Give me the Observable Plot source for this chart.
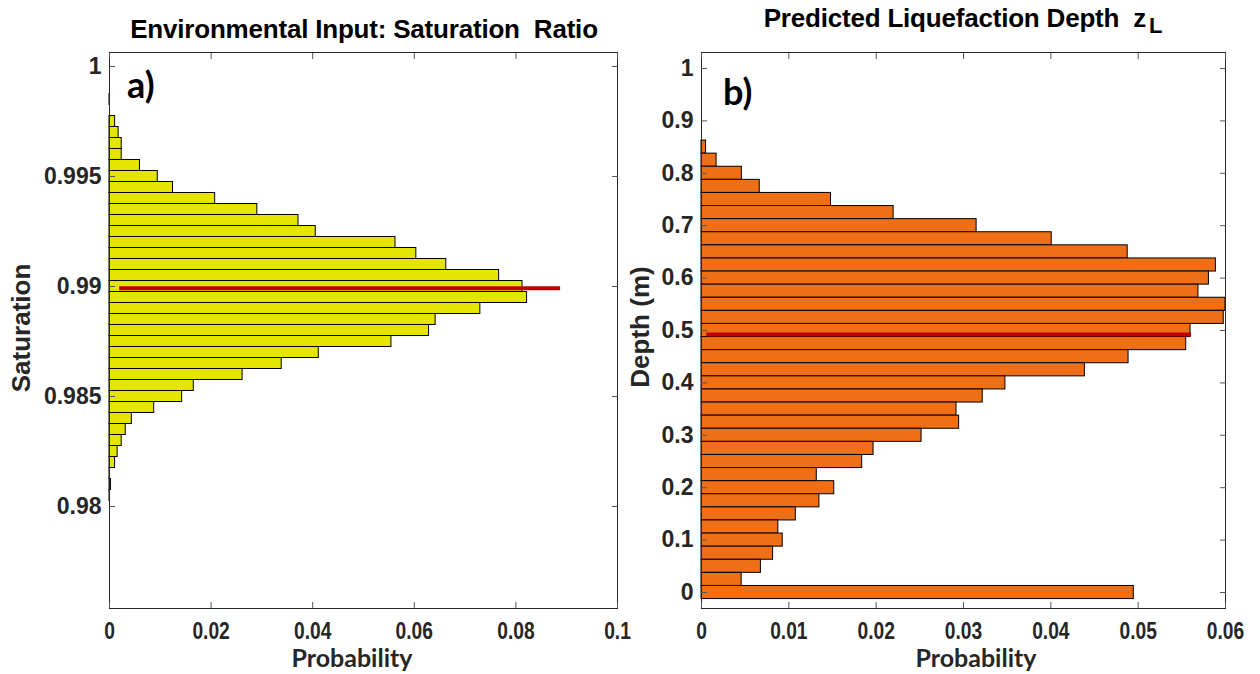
<!DOCTYPE html>
<html><head><meta charset="utf-8">
<script src="https://cdn.jsdelivr.net/npm/d3@7"></script>
<script src="https://cdn.jsdelivr.net/npm/@observablehq/plot@0.6"></script>
<style>
body{margin:0;background:#fff;}
#wrap{position:relative;width:1260px;height:674px;overflow:hidden;font-family:"Liberation Sans",Arial,sans-serif;}
.panel{position:absolute;top:0;}
.t{position:absolute;white-space:nowrap;line-height:1;}
.title{font-family:"Liberation Sans",Arial,sans-serif;font-weight:bold;font-size:26px;letter-spacing:-0.2px;color:#000;transform:translateX(-50%);}
.lab{font-family:Lato,sans-serif;font-weight:bold;font-size:36px;color:#000;}
.ylab{font-family:"Liberation Sans",Arial,sans-serif;font-weight:bold;font-size:26px;color:#262626;transform:translate(-50%,-50%) rotate(-90deg);}
.xlab{font-family:Lato,sans-serif;font-weight:bold;font-size:25px;color:#262626;transform:translate(-50%,-50%);}
</style></head><body><div id="wrap"></div>
<script>
// ---------- Panel a: Saturation ratio histogram ----------
const satCenters = [0.9985, 0.998, 0.9975, 0.997, 0.9965, 0.996, 0.9955, 0.995, 0.9945, 0.994, 0.9935, 0.993, 0.9925, 0.992, 0.9915, 0.991, 0.9905, 0.99, 0.9895, 0.989, 0.9885, 0.988, 0.9875, 0.987, 0.9865, 0.986, 0.9855, 0.985, 0.9845, 0.984, 0.9835, 0.983, 0.9825, 0.982, 0.9815, 0.981, 0.9805];
const satProb = [0.0001, 0, 0.0011, 0.0018, 0.0024, 0.0024, 0.0060, 0.0095, 0.0125, 0.0208, 0.0291, 0.0372, 0.0406, 0.0563, 0.0604, 0.0663, 0.0767, 0.0813, 0.0822, 0.0730, 0.0642, 0.0629, 0.0555, 0.0412, 0.0339, 0.0262, 0.0166, 0.0143, 0.0088, 0.0044, 0.0032, 0.0024, 0.0016, 0.0011, 0.0001, 0.0003, 0.0001];
const satBinWidth = 0.0005;
const satMean = {y: 0.98992, x1: 0.002, x2: 0.0888};
const satXTicks = [0, 0.02, 0.04, 0.06, 0.08, 0.1];
const satYTicks = [0.98, 0.985, 0.99, 0.995, 1];
const satYDomain = [0.975364, 1.000636];
const satXDomain = [0, 0.1];

// ---------- Panel b: Liquefaction depth histogram ----------
const depthCenters = [0.85, 0.825, 0.8, 0.775, 0.75, 0.725, 0.7, 0.675, 0.65, 0.625, 0.6, 0.575, 0.55, 0.525, 0.5, 0.475, 0.45, 0.425, 0.4, 0.375, 0.35, 0.325, 0.3, 0.275, 0.25, 0.225, 0.2, 0.175, 0.15, 0.125, 0.1, 0.075, 0.05, 0.025, 0];
const depthProb = [0.00052, 0.00173, 0.00462, 0.00667, 0.01483, 0.0220, 0.0315, 0.0401, 0.0488, 0.0589, 0.0581, 0.0569, 0.0600, 0.0598, 0.0560, 0.0555, 0.0489, 0.0439, 0.0348, 0.0322, 0.0292, 0.0295, 0.0252, 0.0197, 0.0184, 0.0132, 0.0152, 0.0135, 0.0108, 0.0088, 0.0093, 0.0082, 0.0068, 0.0046, 0.0495];
const depthBinWidth = 0.025;
const depthMean = {y: 0.4924, x1: 0.0006, x2: 0.0561};
const depthXTicks = [0, 0.01, 0.02, 0.03, 0.04, 0.05, 0.06];
const depthYTicks = [0, 0.1, 0.2, 0.3, 0.4, 0.5, 0.6, 0.7, 0.8, 0.9, 1];
const depthYDomain = [-0.0305, 1.0305];
const depthXDomain = [0, 0.06];

const fmt = d => String(+(+d).toFixed(4));
const wrap = document.getElementById("wrap");

function histPanel({centers, probs, binW, mean, xTicks, yTicks, xDomain, yDomain, fill, left, mL, mR}) {
  const data = centers.map((c, i) => ({c, p: probs[i]}));
  const chart = Plot.plot({
    width: 630, height: 674,
    marginLeft: mL, marginRight: mR, marginTop: 52, marginBottom: 66,
    x: {domain: xDomain},
    y: {domain: yDomain},
    style: {fontFamily: "'Liberation Sans', Arial, sans-serif", fontSize: "23px", fontWeight: "bold", color: "#262626", background: "transparent", overflow: "visible"},
    marks: [
      Plot.rectX(data, {y1: d => d.c - binW / 2, y2: d => d.c + binW / 2, x1: 0, x2: "p", fill, stroke: "#000", strokeWidth: 1}),
      Plot.ruleY([mean], {y: "y", x1: "x1", x2: "x2", stroke: "#c00000", strokeWidth: 4}),
      Plot.frame({stroke: "#262626"}),
      Plot.axisX(xTicks, {anchor: "bottom", tickSize: 0, tickPadding: 13, tickFormat: fmt, label: null, fontSize: "24px"}),
      Plot.axisX(xTicks, {anchor: "bottom", tickSize: 6, dy: -6, fill: "none", label: null, stroke: "#555"}),
      Plot.axisX(xTicks, {anchor: "top", tickSize: 6, dy: 6, fill: "none", label: null, stroke: "#555"}),
      Plot.axisY(yTicks, {anchor: "left", tickSize: 0, tickPadding: 8, tickFormat: fmt, label: null}),
      Plot.axisY(yTicks, {anchor: "left", tickSize: 6, dx: 6, fill: "none", label: null, stroke: "#555"}),
      Plot.axisY(yTicks, {anchor: "right", tickSize: 6, dx: -6, fill: "none", label: null, stroke: "#555"})
    ]
  });
  chart.classList.add("panel");
  chart.style.left = left + "px";
  wrap.appendChild(chart);
  // condensed x tick labels
  d3.select(chart).selectAll('g[aria-label="x-axis tick label"] text').each(function () {
    const w = this.getComputedTextLength();
    if (w > 0) { this.setAttribute("textLength", w * 0.8); this.setAttribute("lengthAdjust", "spacingAndGlyphs"); }
  });
}

histPanel({centers: satCenters, probs: satProb, binW: satBinWidth, mean: satMean, xTicks: satXTicks, yTicks: satYTicks, xDomain: satXDomain, yDomain: satYDomain, fill: "#e5e500", left: 0, mL: 109, mR: 13});
histPanel({centers: depthCenters, probs: depthProb, binW: depthBinWidth, mean: depthMean, xTicks: depthXTicks, yTicks: depthYTicks, xDomain: depthXDomain, yDomain: depthYDomain, fill: "#ee6f16", left: 630, mL: 71, mR: 35});

function addText(cls, html, x, y) {
  const d = document.createElement("div");
  d.className = "t " + cls;
  d.innerHTML = html;
  d.style.left = x + "px";
  d.style.top = y + "px";
  wrap.appendChild(d);
}
addText("title", "Environmental Input: Saturation&nbsp; Ratio", 364, 16);
addText("title", "Predicted Liquefaction Depth&nbsp; z<sub style=\"font-size:22px;position:relative;top:6px;vertical-align:baseline;margin-left:3px\">L</sub>", 963, 5);
addText("lab", "a)", 127, 66);
addText("lab", "b)", 723, 73);
addText("ylab", "Saturation", 21, 328);
addText("ylab", "Depth (m)", 640, 327);
addText("xlab", "Probability", 352, 657);
addText("xlab", "Probability", 976, 657);
</script>
</body></html>
